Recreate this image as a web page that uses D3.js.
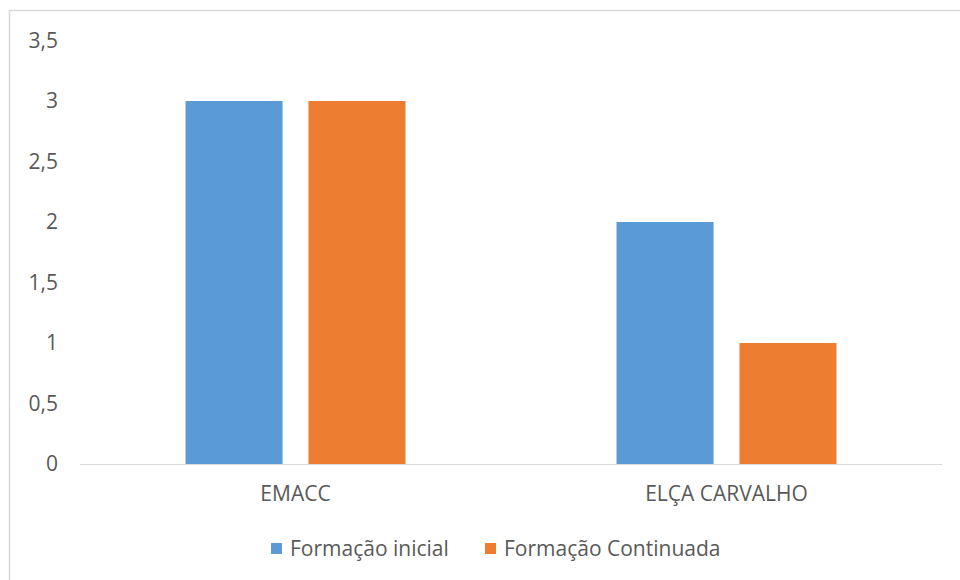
<!DOCTYPE html>
<html>
<head>
<meta charset="utf-8">
<script src="https://cdn.jsdelivr.net/npm/d3@7"></script>
<style>
  body { margin: 0; background: #fff; }
  svg text { font-family: "Open Sans", "Noto Sans", sans-serif; fill: #595959; }
</style>
</head>
<body>
<svg width="960" height="580"></svg>
<script>
var categories = ["EMACC", "ELÇA CARVALHO"];
var seriesNames = ["Formação inicial", "Formação Continuada"];
var seriesColors = ["#5B9BD5", "#ED7D31"];
var formacaoInicial = [3, 2];
var formacaoContinuada = [3, 1];
var yTicks = [0, 0.5, 1, 1.5, 2, 2.5, 3, 3.5];

var svg = d3.select("svg");
var plotLeft = 80, plotRight = 942, plotTop = 40.5, plotBottom = 464;
var fontSize = 21;

// chart frame
svg.append("rect")
    .attr("x", 9.5).attr("y", 10.5)
    .attr("width", 980).attr("height", 600)
    .attr("fill", "none")
    .attr("stroke", "#d9d9d9")
    .attr("stroke-width", 1.5);

var y = d3.scaleLinear().domain([0, 3.5]).range([plotBottom, plotTop]);
var x0 = d3.scaleBand().domain(categories).range([plotLeft, plotRight]);
var x1 = d3.scaleBand().domain(seriesNames)
    .range([0, x0.bandwidth()])
    .paddingInner(0.211).paddingOuter(0.858);

var fmt = function(d) { return String(d).replace(".", ","); };

// y axis labels
var yAxis = svg.append("g")
    .attr("transform", "translate(" + (plotLeft - 22) + ",0)")
    .call(d3.axisLeft(y).tickValues(yTicks).tickFormat(fmt).tickSize(0).tickPadding(0));
yAxis.select(".domain").remove();
yAxis.selectAll("text").attr("font-size", fontSize).style("fill", "#595959");

// baseline
svg.append("line")
    .attr("x1", plotLeft).attr("x2", plotRight)
    .attr("y1", plotBottom + 0.5).attr("y2", plotBottom + 0.5)
    .attr("stroke", "#d9d9d9").attr("stroke-width", 1);

var rows = categories.map(function(c, i) {
    return { cat: c, values: [formacaoInicial[i], formacaoContinuada[i]] };
});

var groups = svg.append("g").selectAll("g")
    .data(rows)
    .enter().append("g")
    .attr("transform", function(d) { return "translate(" + x0(d.cat) + ",0)"; });

groups.selectAll("rect")
    .data(function(d) { return d.values.map(function(v, j) { return { name: seriesNames[j], value: v, j: j }; }); })
    .enter().append("rect")
    .attr("x", function(d) { return x1(d.name); })
    .attr("width", x1.bandwidth())
    .attr("y", function(d) { return y(d.value); })
    .attr("height", function(d) { return plotBottom - y(d.value); })
    .attr("fill", function(d) { return seriesColors[d.j]; });

// category labels
var xAxis = svg.append("g")
    .attr("transform", "translate(0," + plotBottom + ")")
    .call(d3.axisBottom(x0).tickSize(0).tickPadding(22));
xAxis.select(".domain").remove();
xAxis.selectAll("text").attr("font-size", fontSize).style("fill", "#595959");

// legend
var legendX = [271, 485];
var legend = svg.append("g").selectAll("g")
    .data(seriesNames)
    .enter().append("g")
    .attr("transform", function(d, i) { return "translate(" + legendX[i] + ",543)"; });
legend.append("rect")
    .attr("width", 11).attr("height", 11)
    .attr("fill", function(d, i) { return seriesColors[i]; });
legend.append("text")
    .attr("x", 19).attr("y", 5.5)
    .attr("dy", "0.35em")
    .attr("font-size", fontSize)
    .text(function(d) { return d; });
</script>
</body>
</html>
